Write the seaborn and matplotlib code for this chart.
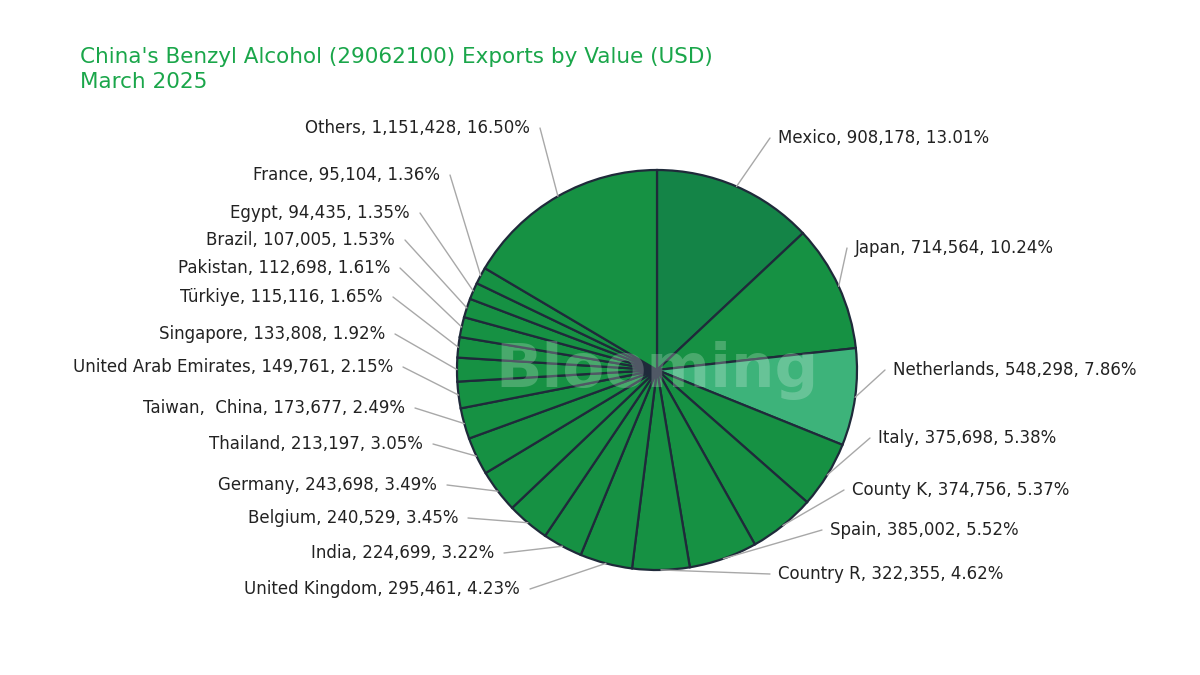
import numpy as np
import matplotlib
matplotlib.use("Agg")
import matplotlib.pyplot as plt
import seaborn as sns

# --- data (clockwise from 12 o'clock) ---
COUNTRIES = ["Mexico", "Japan", "Netherlands", "Italy", "County K", "Spain", "Country R",
             "United Kingdom", "India", "Belgium", "Germany", "Thailand", "Taiwan,  China",
             "United Arab Emirates", "Singapore", "Türkiye", "Pakistan", "Brazil", "Egypt",
             "France", "Others"]
VALUES = [908178, 714564, 548298, 375698, 374756, 385002, 322355, 295461, 224699, 240529,
          243698, 213197, 173677, 149761, 133808, 115116, 112698, 107005, 94435, 95104, 1151428]
PCTS = [13.01, 10.24, 7.86, 5.38, 5.37, 5.52, 4.62, 4.23, 3.22, 3.45, 3.49, 3.05, 2.49,
        2.15, 1.92, 1.65, 1.61, 1.53, 1.35, 1.36, 16.50]

# label layout (pixel coords): anchor x, y
LABEL_X = [778, 855, 893, 878, 852, 830, 778, 520, 494, 458, 437, 423, 405, 393, 385, 383,
           390, 395, 410, 440, 530]
LABEL_Y = [138, 248, 370, 438, 490, 530, 574, 589, 553, 518, 485, 444, 408, 367, 334, 297,
           268, 240, 213, 175, 128]

W, H = 1200, 675
CX, CY, R = 657, 370, 200
BASE = "#169143"
COLORS = [BASE] * len(VALUES)
COLORS[0] = "#148447"
COLORS[2] = "#3db37a"

sns.set_theme(style="white")
fig = plt.figure(figsize=(12, 6.75), dpi=100)
ax = fig.add_axes([0, 0, 1, 1])
ax.axis("off")

FONT = "DejaVu Sans"
wedges, _ = ax.pie(VALUES, colors=COLORS, startangle=90, counterclock=False,
                   center=(CX, H - CY), radius=R,
                   wedgeprops=dict(edgecolor="#1f2a3a", linewidth=1.6))
ax.set_xlim(0, W)
ax.set_ylim(0, H)
ax.set_aspect("equal")

for w, name, v, p, lx, ly in zip(wedges, COUNTRIES, VALUES, PCTS, LABEL_X, LABEL_Y):
    ang = np.deg2rad((w.theta1 + w.theta2) / 2)
    ex, ey = CX + R * np.cos(ang), (H - CY) + R * np.sin(ang)
    right = lx > CX and name != "United Kingdom"
    tx = lx - 8 if right else lx + 10
    ax.plot([ex, tx], [ey, H - ly], color="#a8a8a8", lw=1)
    ax.text(lx, H - ly, f"{name}, {v:,}, {p:.2f}%", fontsize=12, family=FONT,
            color="#222222", va="center", ha="left" if right else "right")

ax.text(CX, H - CY, "Blooming", fontsize=44, fontweight="bold", family=FONT,
        color="white", alpha=0.22, ha="center", va="center")

ax.text(80, H - 57, "China's Benzyl Alcohol (29062100) Exports by Value (USD)", fontsize=15.5,
        family=FONT, color="#1aa64a", va="center")
ax.text(80, H - 82, "March 2025", fontsize=15.5, family=FONT, color="#1aa64a", va="center")

fig.savefig("out.png", dpi=100)
